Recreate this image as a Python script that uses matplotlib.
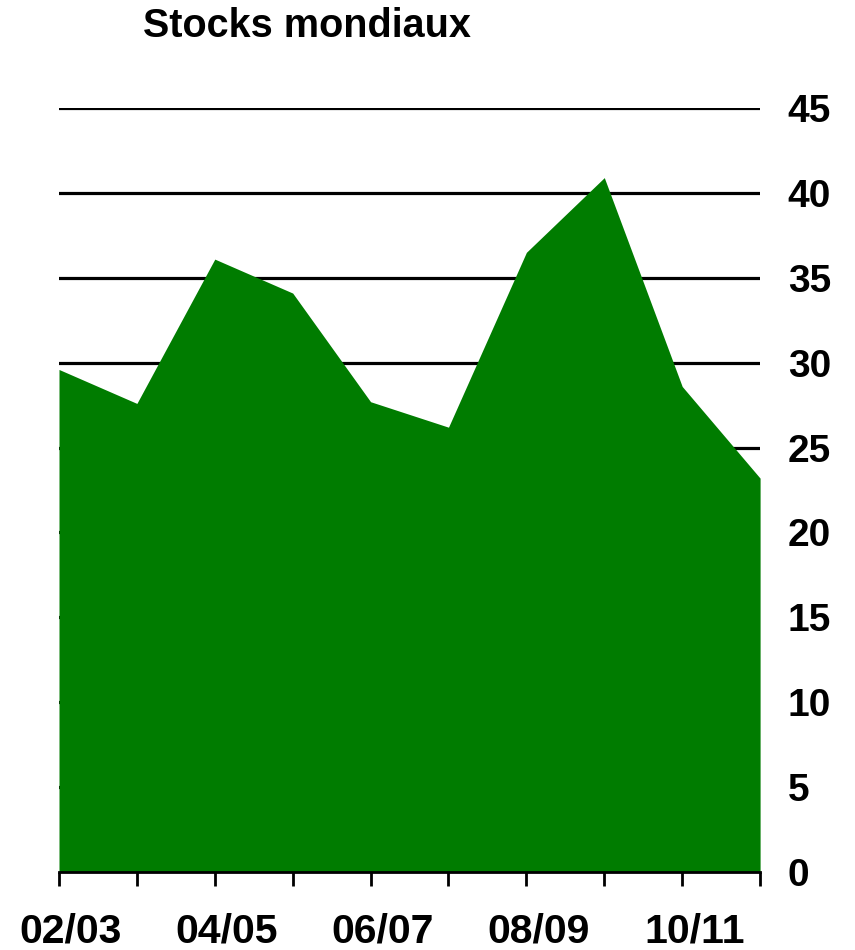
import matplotlib.pyplot as plt
import matplotlib.transforms as mtransforms
import numpy as np

# campagnes et stocks mondiaux
campagnes = ['02/03', '03/04', '04/05', '05/06', '06/07',
             '07/08', '08/09', '09/10', '10/11', '11/12']
stocks = [29.6, 27.6, 36.1, 34.1, 27.7, 26.2, 36.5, 40.9, 28.6, 23.2]
graduations = [0, 5, 10, 15, 20, 25, 30, 35, 40, 45]

plt.rcParams['font.family'] = ['Liberation Sans', 'DejaVu Sans']
plt.rcParams['font.weight'] = 'bold'

fig = plt.figure(figsize=(8.55, 9.5), dpi=100)
ax = fig.add_axes([0.069, 0.0821, 0.82, 0.8042])

x = np.arange(len(campagnes))
ax.fill_between(x, 0, stocks, color='#007c00', linewidth=0, zorder=2)

ax.set_xlim(0, len(campagnes) - 1)
ax.set_ylim(0, 45)

# lignes de grille horizontales derrière la surface
for g in graduations[1:]:
    ax.axhline(g, color='black', linewidth=2.3, zorder=1)

ax.yaxis.tick_right()
ax.set_yticks(graduations)
ax.set_yticklabels([str(g) for g in graduations], fontsize=28, fontweight='bold')
ax.tick_params(axis='y', length=0, pad=20)

ax.set_xticks(x)
ax.set_xticklabels([c if i % 2 == 0 else '' for i, c in enumerate(campagnes)],
                   fontsize=29.5, fontweight='bold')
ax.tick_params(axis='x', length=10, width=2, direction='out', pad=19)
decalage = mtransforms.ScaledTranslation(12 / 100, 0, fig.dpi_scale_trans)
for lbl in ax.get_xticklabels():
    lbl.set_transform(lbl.get_transform() + decalage)

for s in ['top', 'left', 'right']:
    ax.spines[s].set_visible(False)
ax.spines['bottom'].set_linewidth(2)
ax.spines['bottom'].set_zorder(3)

fig.text(0.359, 0.961, 'Stocks mondiaux', fontsize=28.5, fontweight='bold',
         ha='center', va='baseline')

plt.savefig('out.png', dpi=100)
